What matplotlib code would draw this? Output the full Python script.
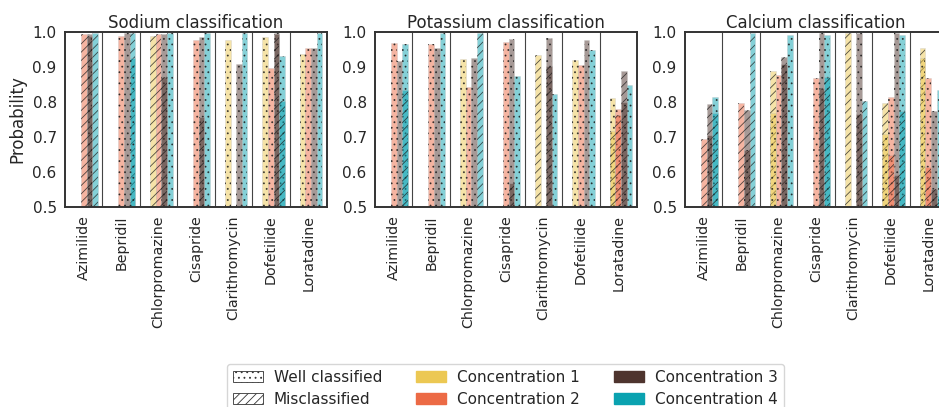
import numpy as np
import matplotlib
matplotlib.use("Agg")
import matplotlib.pyplot as plt
from matplotlib.patches import Patch

plt.rcParams['font.family'] = ['DejaVu Sans']
plt.rcParams['hatch.linewidth'] = 0.6

drugs = ["Azimilide", "Bepridil", "Chlorpromazine", "Cisapride",
         "Clarithromycin", "Dofetilide", "Loratadine"]
conc_labels = ["Concentration 1", "Concentration 2", "Concentration 3", "Concentration 4"]
conc_colors = ["#ecc853", "#ec6a45", "#4e342e", "#0aa2b0"]
titles = ["Sodium classification", "Potassium classification", "Calcium classification"]

# two overlapping bars per drug/concentration: values (rows = drugs, cols = concentrations)
# kind: 'w' = well classified, 'm' = misclassified; 0 = below the axis
sodium_a = [[0, 0.993, 0.995, 0.998],
            [0, 0.989, 0.996, 0.996],
            [0.990, 0.993, 0.993, 0.996],
            [0, 0.977, 0.985, 0.996],
            [0.977, 0, 0.910, 0.996],
            [0.985, 0.898, 0.998, 0.931],
            [0.937, 0.953, 0.955, 0.998]]
sodium_a_kind = [["w", "m", "w", "m"],
                 ["w", "w", "w", "m"],
                 ["m", "m", "w", "w"],
                 ["w", "w", "w", "w"],
                 ["w", "w", "w", "w"],
                 ["w", "w", "w", "w"],
                 ["w", "w", "w", "w"]]
sodium_b = [[0, 0, 0.990, 0],
            [0, 0, 0, 0.925],
            [0, 0, 0.872, 0],
            [0, 0, 0.758, 0],
            [0, 0, 0, 0],
            [0, 0, 0.995, 0.803],
            [0, 0, 0, 0]]
sodium_b_kind = [["m", "m", "m", "m"],
                 ["m", "m", "m", "w"],
                 ["m", "m", "m", "m"],
                 ["m", "m", "m", "m"],
                 ["m", "m", "m", "m"],
                 ["m", "m", "m", "m"],
                 ["m", "m", "m", "m"]]

potassium_a = [[0, 0.968, 0.917, 0.965],
               [0, 0.965, 0.953, 0.996],
               [0.922, 0.842, 0.925, 0.996],
               [0, 0.972, 0.980, 0.874],
               [0.934, 0, 0.982, 0.823],
               [0.920, 0.906, 0.977, 0.949],
               [0.812, 0.779, 0.889, 0.849]]
potassium_a_kind = [["w", "w", "w", "w"],
                    ["w", "w", "w", "w"],
                    ["w", "w", "w", "m"],
                    ["w", "w", "w", "w"],
                    ["m", "w", "w", "w"],
                    ["w", "w", "w", "w"],
                    ["w", "w", "m", "w"]]
potassium_b = [[0, 0, 0, 0.834],
               [0, 0, 0, 0],
               [0, 0, 0, 0],
               [0, 0, 0.568, 0],
               [0, 0, 0.904, 0],
               [0, 0, 0, 0],
               [0.718, 0.763, 0.800, 0]]
potassium_b_kind = [["m", "m", "m", "m"],
                    ["m", "m", "m", "m"],
                    ["m", "m", "m", "m"],
                    ["m", "m", "m", "m"],
                    ["m", "m", "m", "m"],
                    ["m", "m", "m", "m"],
                    ["m", "m", "w", "m"]]

calcium_a = [[0, 0.694, 0.794, 0.813],
             [0, 0.796, 0.777, 0.996],
             [0.889, 0.877, 0.928, 0.991],
             [0, 0.870, 0.996, 0.991],
             [0.996, 0, 0.996, 0.803],
             [0.796, 0.815, 0.996, 0.991],
             [0.953, 0.870, 0.774, 0.834]]
calcium_a_kind = [["w", "m", "m", "w"],
                  ["w", "m", "m", "m"],
                  ["m", "w", "m", "w"],
                  ["w", "w", "w", "w"],
                  ["m", "w", "w", "m"],
                  ["m", "w", "w", "w"],
                  ["m", "w", "w", "w"]]
calcium_b = [[0, 0, 0.706, 0.770],
             [0, 0, 0.664, 0],
             [0.770, 0, 0.909, 0],
             [0, 0, 0.839, 0.872],
             [0, 0, 0.765, 0],
             [0.708, 0.650, 0.591, 0.774],
             [0.925, 0.615, 0.551, 0.532]]
calcium_b_kind = [["m", "m", "w", "m"],
                  ["m", "m", "w", "m"],
                  ["w", "m", "w", "m"],
                  ["m", "m", "m", "m"],
                  ["m", "m", "m", "m"],
                  ["w", "m", "m", "m"],
                  ["w", "m", "m", "m"]]

panels = [(sodium_a, sodium_a_kind, sodium_b, sodium_b_kind),
          (potassium_a, potassium_a_kind, potassium_b, potassium_b_kind),
          (calcium_a, calcium_a_kind, calcium_b, calcium_b_kind)]

hatches = {"w": "...", "m": "////"}
width = 0.15
alpha = 0.5
text_col = "#262626"

fig = plt.figure(figsize=(9.39, 4.07), dpi=100)
lefts = [65, 375, 685]
x = np.arange(len(drugs))

for p, (va, ka, vb, kb) in enumerate(panels):
    ax = fig.add_axes([lefts[p] / 939, 200 / 407, 262 / 939, 175 / 407])
    for vals, kinds in ((va, ka), (vb, kb)):
        vals = np.array(vals)
        for c in range(4):
            xs = x + (c - 1.5) * width
            ax.bar(xs, vals[:, c], width, align="edge", color=conc_colors[c],
                   alpha=alpha, edgecolor="#bbbbbb", linewidth=0.4)
            for i in range(len(drugs)):
                if vals[i, c] > 0:
                    ax.bar(xs[i], vals[i, c], width, align="edge", fill=False,
                           edgecolor=(0.1, 0.1, 0.1, 0.75), linewidth=0,
                           hatch=hatches[kinds[i][c]])
    for s in np.arange(0.5, len(drugs) - 0.5, 1):
        ax.axvline(s, color="#444444", linewidth=0.8, zorder=0)
    ax.set_xlim(-0.5, len(drugs) - 0.5)
    ax.set_ylim(0.5, 1.0)
    ax.set_yticks([0.5, 0.6, 0.7, 0.8, 0.9, 1.0])
    ax.set_xticks(x)
    ax.set_xticklabels(drugs, rotation=90, fontsize=10.3, color=text_col)
    ax.tick_params(axis="y", length=0, labelsize=11, labelcolor=text_col, pad=6)
    ax.tick_params(axis="x", length=0, labelcolor=text_col, pad=6)
    ax.set_title(titles[p], fontsize=12, color=text_col, pad=3)
    for sp in ax.spines.values():
        sp.set_color("#333333")
        sp.set_linewidth(1.4)
    if p == 0:
        ax.set_ylabel("Probability", fontsize=12, color=text_col)

handles = [Patch(facecolor="white", edgecolor="#333333", hatch="...", linewidth=0.6),
           Patch(facecolor="white", edgecolor="#333333", hatch="////", linewidth=0.6),
           Patch(color=conc_colors[0]), Patch(color=conc_colors[1]),
           Patch(color=conc_colors[2]), Patch(color=conc_colors[3])]
labels = ["Well classified", "Misclassified"] + conc_labels
leg = fig.legend(handles, labels, ncol=3, loc="upper center",
                 bbox_to_anchor=(0.538, 1 - 364 / 407), fontsize=11,
                 frameon=True, handlelength=2.0, handletextpad=0.7,
                 columnspacing=2.2, borderaxespad=0, labelspacing=0.45)
leg.get_frame().set_edgecolor("#cccccc")
for t in leg.get_texts():
    t.set_color(text_col)

fig.savefig("out.png", dpi=100)
